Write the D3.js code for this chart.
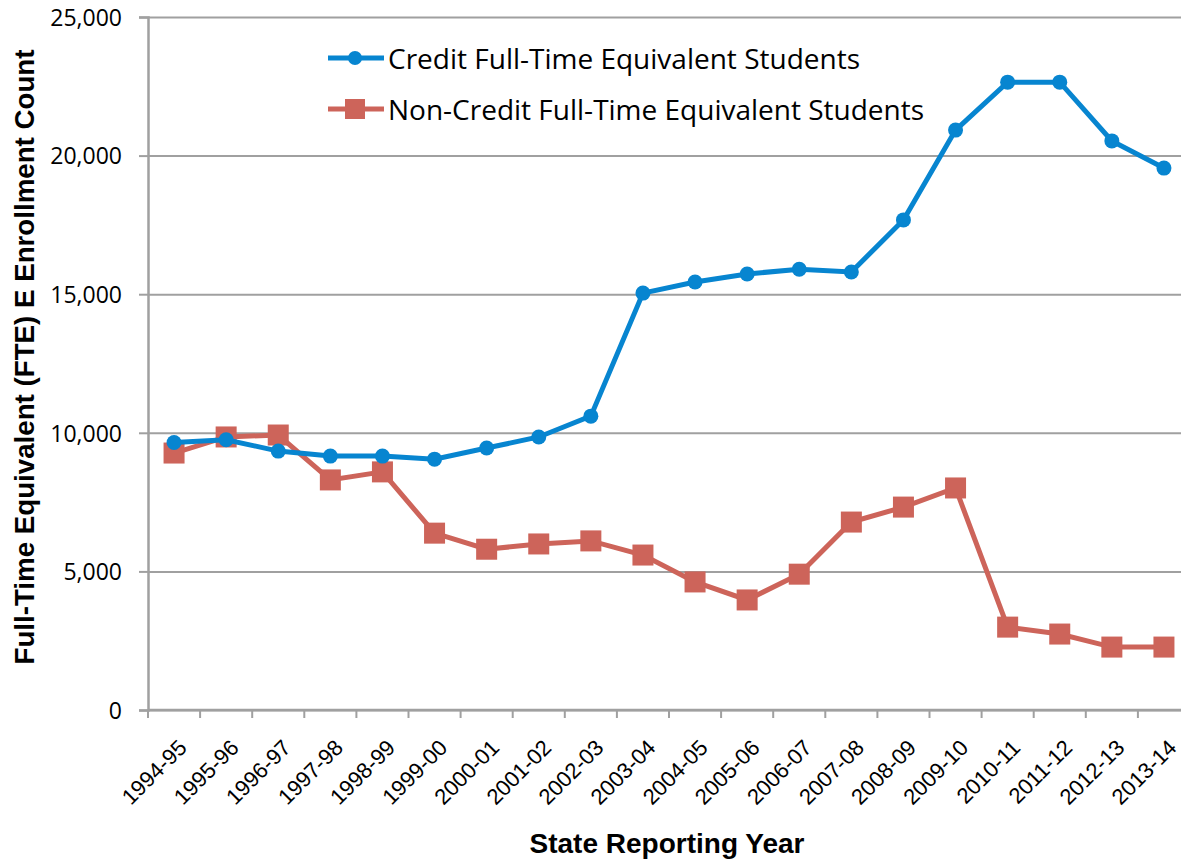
<!DOCTYPE html>
<html lang="en">
<head>
<meta charset="UTF-8">
<title>FTE Enrollment</title>
<script src="https://d3js.org/d3.v7.min.js"></script>
<style>
    body { margin: 0; background: #fff; }
    .tick-num { font-family: "Open Sans", sans-serif; font-size: 23px; fill: #000; }
    .tick-cat { font-family: "Liberation Sans", sans-serif; font-size: 22px; fill: #000; }
    .legend { font-family: "Open Sans", sans-serif; font-size: 28px; fill: #000; }
    .titulo { font-family: "Liberation Sans", sans-serif; font-weight: bold; font-size: 27px; fill: #000; }
</style>
</head>
<body>
<svg width="1181" height="861"></svg>
<script>
    const years = ["1994-95", "1995-96", "1996-97", "1997-98", "1998-99", "1999-00", "2000-01",
        "2001-02", "2002-03", "2003-04", "2004-05", "2005-06", "2006-07", "2007-08", "2008-09",
        "2009-10", "2010-11", "2011-12", "2012-13", "2013-14"];
    const credit = [9650, 9750, 9340, 9160, 9160, 9050, 9450, 9850, 10600, 15040, 15440, 15730,
        15900, 15800, 17680, 20920, 22650, 22650, 20530, 19550];
    const nonCredit = [9270, 9850, 9920, 8300, 8590, 6380, 5800, 5990, 6100, 5590, 4620, 3970,
        4900, 6780, 7320, 8010, 2990, 2740, 2270, 2270];
    const yTicks = [0, 5000, 10000, 15000, 20000, 25000];
    const seriesNames = ["Credit Full-Time Equivalent Students", "Non-Credit Full-Time Equivalent Students"];

    const svg = d3.select("svg");
    // el area del grafico sigue un poco mas alla del borde derecho
    const mLeft = 148, mRight = 1190, mTop = 17, mBottom = 710;
    const blue = "#0785d0", red = "#cd645a", gris = "#a0a0a0";

    const x = d3.scaleBand().domain(years).range([mLeft, mRight]);
    const y = d3.scaleLinear().domain([0, 25000]).range([mBottom, mTop]);
    const cx = d => x(d) + x.bandwidth() / 2;

    // lineas horizontales
    svg.append("g")
        .attr("transform", "translate(" + mLeft + ",0)")
        .call(d3.axisLeft(y).tickValues(yTicks).tickSize(-(mRight - mLeft)).tickFormat(""))
        .call(g => g.select(".domain").remove())
        .selectAll("line").attr("stroke", gris).attr("stroke-width", 2);

    // eje y
    const ejeY = svg.append("g")
        .attr("transform", "translate(" + mLeft + ",0)")
        .call(d3.axisLeft(y).tickValues(yTicks).tickSize(9).tickPadding(17).tickFormat(d3.format(",")));
    ejeY.select(".domain").attr("stroke", gris).attr("stroke-width", 2.5);
    ejeY.selectAll("line").attr("stroke", gris).attr("stroke-width", 2);
    ejeY.selectAll("text").attr("class", "tick-num").attr("dy", "0.36em");

    // eje x
    svg.append("line")
        .attr("x1", mLeft).attr("x2", mRight).attr("y1", mBottom).attr("y2", mBottom)
        .attr("stroke", gris).attr("stroke-width", 2.5);
    svg.selectAll(".xtick")
        .data(years)
        .enter().append("line")
        .attr("x1", d => x(d)).attr("x2", d => x(d))
        .attr("y1", mBottom).attr("y2", mBottom + 8)
        .attr("stroke", gris).attr("stroke-width", 2);
    svg.selectAll(".xlabel")
        .data(years)
        .enter().append("text")
        .attr("class", "tick-cat")
        .attr("text-anchor", "end")
        .attr("transform", d => "translate(" + (cx(d) + 14) + "," + (mBottom + 39) + ") rotate(-45)")
        .text(d => d);

    // lineas de datos
    const linea = d3.line().x((d, i) => cx(years[i])).y(d => y(d));

    svg.append("path").datum(nonCredit)
        .attr("d", linea).attr("fill", "none").attr("stroke", red).attr("stroke-width", 5);
    svg.selectAll(".sq").data(nonCredit).enter().append("rect")
        .attr("x", (d, i) => cx(years[i]) - 10.5).attr("y", d => y(d) - 10.5)
        .attr("width", 21).attr("height", 21).attr("fill", red);

    svg.append("path").datum(credit)
        .attr("d", linea).attr("fill", "none").attr("stroke", blue).attr("stroke-width", 5);
    svg.selectAll(".dot").data(credit).enter().append("circle")
        .attr("cx", (d, i) => cx(years[i])).attr("cy", d => y(d))
        .attr("r", 7.5).attr("fill", blue);

    // leyenda
    const leyenda = svg.append("g");
    [0, 1].forEach(i => {
        const ly = 58 + i * 51;
        const col = i === 0 ? blue : red;
        leyenda.append("line").attr("x1", 328).attr("x2", 384).attr("y1", ly).attr("y2", ly)
            .attr("stroke", col).attr("stroke-width", 5);
        if (i === 0) {
            leyenda.append("circle").attr("cx", 355).attr("cy", ly).attr("r", 7).attr("fill", col);
        } else {
            leyenda.append("rect").attr("x", 345).attr("y", ly - 10).attr("width", 20).attr("height", 20).attr("fill", col);
        }
        leyenda.append("text").attr("class", "legend")
            .attr("x", 388).attr("y", ly + 11)
            .text(seriesNames[i]);
    });

    // titulos
    svg.append("text").attr("class", "titulo")
        .attr("x", 667).attr("y", 853).attr("text-anchor", "middle")
        .attr("textLength", 275).attr("lengthAdjust", "spacingAndGlyphs")
        .text("State Reporting Year");
    svg.append("text").attr("class", "titulo")
        .attr("transform", "translate(34,357) rotate(-90)")
        .attr("text-anchor", "middle")
        .attr("textLength", 615).attr("lengthAdjust", "spacingAndGlyphs")
        .text("Full-Time Equivalent (FTE) E Enrollment Count");
</script>
</body>
</html>
